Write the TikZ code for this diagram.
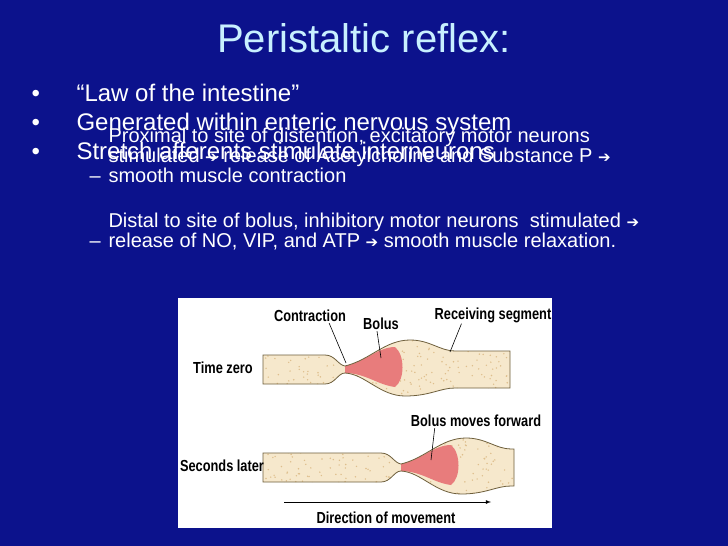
\documentclass[tikz,border=0pt]{standalone}
\usepackage{fontspec}
\setmainfont{Liberation Sans}
\newfontfamily\narrowfont[FakeStretch=0.8]{Liberation Sans}
\newfontfamily\djv{DejaVu Sans}
\newcommand{\arrsym}{{\djv\fontsize{15}{15}\selectfont ➔}}
\definecolor{slidebg}{RGB}{12,18,140}
\definecolor{titlec}{RGB}{200,240,255}
\definecolor{tubefill}{RGB}{246,232,204}
\definecolor{speck}{RGB}{222,190,140}
\definecolor{bolusc}{RGB}{232,124,124}
\definecolor{edgec}{RGB}{110,95,60}
\newcommand{\tubepath}[2]{(#1,355) -- (325,355) .. controls (335,355) and (338,365) .. (345,366) .. controls (370,360) and (385,340) .. (410,340) .. controls (430,340) and (440,351) .. (455,351) -- (#2,351) -- (#2,388) -- (455,388) .. controls (440,388) and (430,396) .. (405,396) .. controls (380,396) and (365,374) .. (345,373) .. controls (338,373) and (335,384) .. (325,384) -- (#1,384) -- cycle}
\newcommand{\boluspath}{(345,366) .. controls (365,362) and (378,347) .. (395,347) .. controls (405,355) and (405,380) .. (395,387) .. controls (378,385) and (365,373) .. (345,373) -- cycle}
\newcommand{\specks}[1]{\pgfmathsetseed{#1}\foreach \i in {1,...,300}{\pgfmathsetmacro\px{200+rnd*320}\pgfmathsetmacro\py{338+rnd*60}\fill[speck] (\px,\py) circle (0.8);}}
\begin{document}
\begin{tikzpicture}[x=1pt,y=-1pt,
  bul/.style={anchor=base west,text=white,font=\fontsize{24}{28}\selectfont},
  sub/.style={anchor=base west,text=white,font=\fontsize{20}{20}\selectfont,align=left},
  lab/.style={font=\narrowfont\bfseries\fontsize{16}{18}\selectfont,inner sep=1pt},
  lead/.style={draw=black,line width=0.6pt}]
\fill[slidebg] (0,0) rectangle (728,546);
\useasboundingbox (0,0) rectangle (728,546);
\node[text=titlec,font=\fontsize{40}{44}\selectfont] (title) at (364,38) {Peristaltic reflex:};
\foreach \y/\t [count=\k] in {101/{“Law of the intestine”},130/{Generated within enteric nervous system},159/{Stretch afferents stimulate interneurons}}{
  \node[bul] (b\k) at (73,\y) {\t};
  \node[bul] (d\k) at (28,\y) {•};
}
\node[sub] (s1) at (105,182) {Proximal to site of distention, excitatory motor neurons\\stimulated \arrsym{} release of Acetylcholine and Substance P \arrsym\\smooth muscle contraction};
\node[sub] (m1) at (86,182) {–};
\node[sub] (s2) at (105,247) {Distal to site of bolus, inhibitory motor neurons\ \ stimulated \arrsym\\release of NO, VIP, and ATP \arrsym{} smooth muscle relaxation.};
\node[sub] (m2) at (86,247) {–};
% inset
\fill[white] (178,298) rectangle (552,528);
\begin{scope}
  \fill[tubefill] \tubepath{263}{510};
  \begin{scope}\clip \tubepath{263}{510}; \specks{3} \end{scope}
  \fill[bolusc] \boluspath;
  \draw[edgec,line width=0.8pt] \tubepath{263}{510};
\end{scope}
\begin{scope}[shift={(56,98)}]
  \fill[tubefill] \tubepath{207}{458};
  \begin{scope}\clip \tubepath{207}{458}; \specks{7} \end{scope}
  \fill[bolusc] \boluspath;
  \draw[edgec,line width=0.8pt] \tubepath{207}{458};
\end{scope}
\node[lab] (contr) at (310,316) {Contraction};
\node[lab] (bolus) at (381,324) {Bolus};
\node[lab] (recv) at (493,315) {Receiving segment};
\node[lab] (tz) at (223,368) {Time zero};
\node[lab] (bmf) at (476,421) {Bolus moves forward};
\node[lab] (sl) at (222,466) {Seconds later};
\node[lab] (dir) at (386,518) {Direction of movement};
\coordinate (c1) at (346,363);
\coordinate (c2) at (381,358);
\coordinate (c3) at (450,352);
\coordinate (c4) at (431,460);
\coordinate (a1) at (284,502);
\coordinate (a2) at (491,502);
\draw[lead] (contr.south east) ++(-18,0) -- (c1);
\draw[lead] (bolus.south) ++(-4,0) -- (c2);
\draw[lead] (recv.south west) ++(28,0) -- (c3);
\draw[lead] (bmf.south west) ++(25,0) -- (c4);
\draw[line width=0.8pt,-latex] (a1) -- (a2);
\end{tikzpicture}
\end{document}
